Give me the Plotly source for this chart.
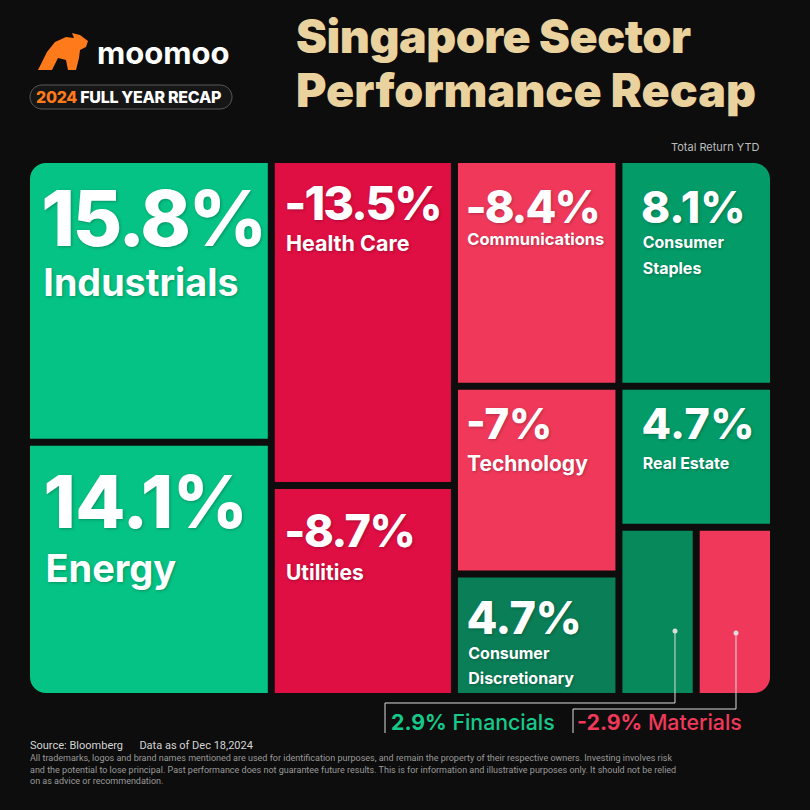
import plotly.graph_objects as go

W = H = 810
BG = "#0d0d0d"

# ---------------- data ----------------
sectors = ["Industrials", "Energy", "Health Care", "Utilities", "Communications",
           "Technology", "Consumer Discretionary", "Consumer Staples", "Real Estate",
           "Financials", "Materials"]
display_names = ["Industrials", "Energy", "Health Care", "Utilities", "Communications",
                 "Technology", "Consumer<br>Discretionary", "Consumer<br>Staples", "Real Estate",
                 "Financials", "Materials"]
returns_ytd = [15.8, 14.1, -13.5, -8.7, -8.4, -7.0, 4.7, 8.1, 4.7, 2.9, -2.9]
# relative tile sizes, estimated from the tile areas in the picture
tile_weights = [67.7, 60.9, 58.4, 37.8, 36.5, 30.2, 19.7, 34.3, 21.3, 12.8, 12.8]
sector_group = ["G1", "G1", "G2", "G2", "G3", "G3", "G3", "G4", "G4", "G4b", "G4b"]
group_ids = ["root", "G1", "G2", "G3", "G4", "G4b"]
group_parents = ["", "root", "root", "root", "root", "G4"]
callout_sectors = ["Financials", "Materials"]

# ---------------- styles ----------------
cell_colors = ["#05C384", "#05C384", "#DF0E43", "#DF0E43", "#F0395A", "#F0395A",
               "#0A7E57", "#039B68", "#039B68", "#07895C", "#F0395A"]
pct_size = [77, 73, 47, 45, 45, 42, 45, 44, 43, 0, 0]
pct_ls = [-2.5, -0.5, -2, -1.5, -2, 0, -0.5, 0, 0.5, 0, 0]
line_size = [38.5, 41.5, 24, 25.4, 17, 24.6, 19.5, 19.5, 23, 10, 10]
name_size = [38, 38, 21.5, 21, 16.5, 21, 16, 16, 16, 10, 10]
first_asc = [84, 82, 56, 57, 59, 47.5, 55, 59, 47.5, 0, 0]
inset_px = [12, 14, 9, 9, 7, 7, 8, 18, 18, 0, 0]

NBSP_EM = 0.28


def fmt(r):
    return f"{r:g}%"


def pad(size, px):
    ls = px - NBSP_EM * size
    return f"<span style='font-size:{size}px;letter-spacing:{ls:.1f}px'>\u00a0</span>"


def cell_text(i):
    if sectors[i] in callout_sectors:
        return ""
    line1 = (pad(first_asc[i], inset_px[i]) +
             f"<span style='font-size:{pct_size[i]}px;font-weight:800;letter-spacing:{pct_ls[i]}px'>"
             f"{fmt(returns_ytd[i])}</span>")
    names = [pad(name_size[i], inset_px[i]) + f"<span style='font-size:{name_size[i]}px'>{part}</span>"
             for part in display_names[i].split("<br>")]
    return "<br>".join([line1] + names)


leaf_first = [i for i, g in enumerate(sector_group) if g != "G4b"]
leaf_last = [i for i, g in enumerate(sector_group) if g == "G4b"]

ids, labels, parents, values, colors, texts, fsizes = [], [], [], [], [], [], []


def add_group(gid, gp):
    ids.append(gid); labels.append(gid); parents.append(gp); values.append(0)
    colors.append("rgba(0,0,0,0)"); texts.append(""); fsizes.append(10)


def add_leaf(i):
    ids.append(sectors[i]); labels.append(sectors[i]); parents.append(sector_group[i])
    values.append(tile_weights[i]); colors.append(cell_colors[i]); texts.append(cell_text(i))
    fsizes.append(line_size[i])


for gid, gp in zip(group_ids[:-1], group_parents[:-1]):
    add_group(gid, gp)
for i in leaf_first:
    add_leaf(i)
add_group(group_ids[-1], group_parents[-1])
for i in leaf_last:
    add_leaf(i)

X0, X1, Y0, Y1 = 30, 770, 163, 693

fig = go.Figure()
fig.add_trace(go.Treemap(
    ids=ids, labels=labels, parents=parents, values=values,
    branchvalues="remainder", sort=False,
    text=texts, texttemplate="%{text}", textposition="top left",
    textfont=dict(family="Inter", size=fsizes, color="white", weight=700,
                  shadow="1px 1px 3px rgba(0,0,0,0.25)"),
    marker=dict(colors=colors, line=dict(width=0), pad=dict(t=0, l=0, r=0, b=0),
                cornerradius=0),
    tiling=dict(packing="slice-dice", pad=7),
    pathbar=dict(visible=False),
    root=dict(color="rgba(0,0,0,0)"),
    domain=dict(x=[X0 / W, X1 / W], y=[1 - Y1 / H, 1 - Y0 / H]),
    hoverinfo="skip",
))


def P(x, y):
    return f"{x / W:.5f},{1 - y / H:.5f}"


shapes = []

# rounded outer corners of the block (masks)
K = 0.5523
R = 16


def corner(cx, cy, sx, sy, r=R):
    o = 2
    pts = [
        f"M{P(cx - sx * o, cy - sy * o)}",
        f"L{P(cx + sx * r, cy - sy * o)}",
        f"L{P(cx + sx * r, cy)}",
        f"C{P(cx + sx * r * (1 - K), cy)} {P(cx, cy + sy * r * (1 - K))} {P(cx, cy + sy * r)}",
        f"L{P(cx - sx * o, cy + sy * r)}",
        "Z",
    ]
    return dict(type="path", path=" ".join(pts), xref="paper", yref="paper",
                fillcolor=BG, line=dict(width=0), layer="above")


shapes += [corner(X0, Y0, 1, 1), corner(X1, Y0, -1, 1), corner(X0, Y1, 1, -1), corner(X1, Y1, -1, -1)]

# callout leader lines for the small tiles
LC = "#dcdcdc"
leaders = [
    [(675, 631), (675, 703), (385, 703), (385, 733)],
    [(736, 633), (736, 709), (573, 709), (573, 733)],
]
for pts in leaders:
    path = "M" + " L".join(P(x, y) for x, y in pts)
    shapes.append(dict(type="path", path=path, xref="paper", yref="paper",
                       line=dict(color=LC, width=1), layer="above"))
    x, y = pts[0]
    shapes.append(dict(type="circle", xref="paper", yref="paper",
                       x0=(x - 2.5) / W, x1=(x + 2.5) / W, y0=1 - (y + 2.5) / H, y1=1 - (y - 2.5) / H,
                       fillcolor=LC, line=dict(width=0), layer="above"))

# pill around "2024 FULL YEAR RECAP"
px0, px1, py0, py1, pr = 30, 232, 85, 109, 12
pill = (f"M{P(px0 + pr, py0)} L{P(px1 - pr, py0)} "
        f"C{P(px1 - pr * (1 - K), py0)} {P(px1, py0 + pr * (1 - K))} {P(px1, py0 + pr)} "
        f"C{P(px1, py1 - pr * (1 - K))} {P(px1 - pr * (1 - K), py1)} {P(px1 - pr, py1)} "
        f"L{P(px0 + pr, py1)} "
        f"C{P(px0 + pr * (1 - K), py1)} {P(px0, py1 - pr * (1 - K))} {P(px0, py1 - pr)} "
        f"C{P(px0, py0 + pr * (1 - K))} {P(px0 + pr * (1 - K), py0)} {P(px0 + pr, py0)} Z")
shapes.append(dict(type="path", path=pill, xref="paper", yref="paper",
                   fillcolor="#161616", line=dict(color="#5a5a5a", width=1), layer="above"))

# simplified orange bull logo
bull = [(38, 70), (47, 52), (55, 42), (66, 37), (74, 38), (72, 33), (80, 35), (88, 41),
        (86, 47), (80, 50), (79, 58), (76, 70), (68, 70), (66, 60), (58, 58), (52, 70)]
shapes.append(dict(type="path", path="M" + " L".join(P(x, y) for x, y in bull) + " Z",
                   xref="paper", yref="paper", fillcolor="#FF7A1A", line=dict(width=0), layer="above"))

fig.update_layout(shapes=shapes)

ann = []


def A(text, x, y, size, color, xanchor="left", family="Inter", weight=400, yanchor="middle"):
    ann.append(dict(text=text, x=x / W, y=1 - y / H, xref="paper", yref="paper",
                    xanchor=xanchor, yanchor=yanchor, showarrow=False,
                    font=dict(family=family, size=size, color=color, weight=weight),
                    align="left"))


A("moomoo", 95, 52, 31, "white", weight=700)
A("<span style='color:#FF7A1A;letter-spacing:-0.3px'>2024</span>"
  "<span style='letter-spacing:-0.3px'> FULL YEAR RECAP</span>", 34, 97.5, 16, "white", weight=800)
A("<span style='letter-spacing:-0.5px'>Singapore Sector</span>", 294, 35.5, 46.5, "#EAD29F", weight=900)
A("Performance Recap", 294, 90.5, 46.5, "#EAD29F", weight=900)
A("Total Return YTD", 762, 147, 11, "#bdbdbd", xanchor="right")

# callout labels
label_colors = {1: "#16C98A", -1: "#F0395A"}
label_x = [389, 575]
for k, s in enumerate(callout_sectors):
    i = sectors.index(s)
    r = returns_ytd[i]
    A(f"<b>{fmt(r)}</b> {display_names[i]}", label_x[k], 722, 21.3,
      label_colors[1 if r >= 0 else -1], weight=500)

A("Source: Bloomberg&nbsp;&nbsp;&nbsp;&nbsp;&nbsp;&nbsp;Data as of Dec 18,2024", 28, 745, 11, "#d4d4d4",
  family="Roboto")
A("All trademarks, logos and brand names mentioned are used for identification purposes, and remain the property of their respective owners. Investing involves risk<br>"
  "and the potential to lose principal. Past performance does not guarantee future results. This is for information and illustrative purposes only. It should not be relied<br>"
  "on as advice or recommendation.", 28, 751, 9, "#9a9a9a", family="Roboto", yanchor="top")

fig.update_layout(
    annotations=ann,
    width=W, height=H,
    margin=dict(l=0, r=0, t=0, b=0),
    paper_bgcolor=BG, plot_bgcolor=BG,
    showlegend=False,
)

fig.write_html("out.html")
